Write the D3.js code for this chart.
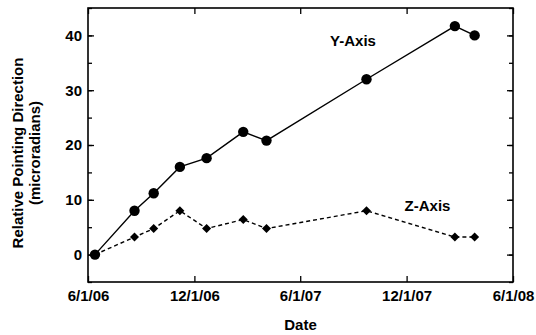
<!DOCTYPE html>
<html>
<head>
<meta charset="utf-8">
<script src="https://cdn.jsdelivr.net/npm/d3@7"></script>
<style>
  body { margin: 0; background: #fff; }
  svg { display: block; font-family: "Liberation Sans", Arial, sans-serif; font-weight: bold; }
  .axis path { display: none; }
  .axis line { stroke: #000; stroke-width: 1.3; }
  .axis text { font-size: 15px; fill: #000; font-family: "Liberation Sans", Arial, sans-serif; font-weight: bold; }
</style>
</head>
<body>
<script>
const dates = ["2006-06-13", "2006-08-20", "2006-09-22", "2006-11-06", "2006-12-22",
               "2007-02-23", "2007-04-04", "2007-09-23", "2008-02-22", "2008-03-27"];
const yAxisValues = [0, 8.0, 11.2, 16.0, 17.6, 22.4, 20.8, 32.0, 41.7, 40.0];
const zAxisValues = [0, 3.2, 4.75, 8.0, 4.75, 6.4, 4.75, 8.0, 3.2, 3.2];

const xTickDates = ["2006-06-01", "2006-12-01", "2007-06-01", "2007-12-01", "2008-06-01"];
const xTickLabels = ["6/1/06", "12/1/06", "6/1/07", "12/1/07", "6/1/08"];
const yTicks = [0, 10, 20, 30, 40];
const yMinorTicks = [-5, 0, 5, 10, 15, 20, 25, 30, 35, 40, 45];

const width = 536, height = 335;
const margin = {top: 8, right: 23, bottom: 53, left: 88};
const w = width - margin.left - margin.right;
const h = height - margin.top - margin.bottom;

const parse = d3.timeParse("%Y-%m-%d");

const svg = d3.select("body").append("svg")
    .attr("width", width)
    .attr("height", height);

const g = svg.append("g").attr("transform", `translate(${margin.left},${margin.top})`);

const x = d3.scaleTime()
    .domain([parse(xTickDates[0]), parse(xTickDates[xTickDates.length - 1])])
    .range([0, w]);
const y = d3.scaleLinear().domain([-5, 45]).range([h, 0]);

const tickDates = xTickDates.map(parse);
const fmt = d => xTickLabels[tickDates.findIndex(t => +t === +d)];

// bottom axis with labels, ticks pointing in
g.append("g").attr("class", "axis")
    .attr("transform", `translate(0,${h})`)
    .call(d3.axisBottom(x).tickValues(tickDates).tickFormat(fmt).tickSizeInner(-6).tickSizeOuter(0).tickPadding(8));

g.append("g").attr("class", "axis")
    .call(d3.axisTop(x).tickValues(tickDates).tickFormat("").tickSizeInner(-6).tickSizeOuter(0));

// y minor ticks
g.append("g").attr("class", "axis")
    .call(d3.axisLeft(y).tickValues(yMinorTicks).tickFormat("").tickSizeInner(-4).tickSizeOuter(0));
g.append("g").attr("class", "axis")
    .attr("transform", `translate(${w},0)`)
    .call(d3.axisRight(y).tickValues(yMinorTicks).tickFormat("").tickSizeInner(-4).tickSizeOuter(0));

// y major ticks
g.append("g").attr("class", "axis")
    .call(d3.axisLeft(y).tickValues(yTicks).tickFormat(d3.format("d")).tickSizeInner(-6).tickSizeOuter(0).tickPadding(6));
g.append("g").attr("class", "axis")
    .attr("transform", `translate(${w},0)`)
    .call(d3.axisRight(y).tickValues(yTicks).tickFormat("").tickSizeInner(-6).tickSizeOuter(0));

// frame
g.append("rect")
    .attr("width", w).attr("height", h)
    .attr("fill", "none").attr("stroke", "#000").attr("stroke-width", 1.6);

const ptsY = dates.map((d, i) => ({date: parse(d), v: yAxisValues[i]}));
const ptsZ = dates.map((d, i) => ({date: parse(d), v: zAxisValues[i]}));

const line = d3.line().x(d => x(d.date)).y(d => y(d.v));

g.append("path").datum(ptsZ)
    .attr("d", line)
    .attr("fill", "none").attr("stroke", "#000")
    .attr("stroke-width", 1.4).attr("stroke-dasharray", "4,3");

g.append("path").datum(ptsY)
    .attr("d", line)
    .attr("fill", "none").attr("stroke", "#000").attr("stroke-width", 1.4);

g.selectAll(".dia").data(ptsZ).enter().append("path")
    .attr("class", "dia")
    .attr("transform", d => `translate(${x(d.date)},${y(d.v)})`)
    .attr("d", d3.symbol(d3.symbolDiamond2, 52));

g.selectAll(".dot").data(ptsY).enter().append("circle")
    .attr("class", "dot")
    .attr("cx", d => x(d.date)).attr("cy", d => y(d.v))
    .attr("r", 5.2).attr("fill", "#000");

// series labels
g.append("text").attr("x", 353 - margin.left).attr("y", 46 - margin.top)
    .attr("text-anchor", "middle").style("font-size", "15px").text("Y-Axis");
g.append("text").attr("x", 427.5 - margin.left).attr("y", 211 - margin.top)
    .attr("text-anchor", "middle").style("font-size", "15px").text("Z-Axis");

// axis titles
svg.append("text").attr("x", margin.left + w / 2).attr("y", 330)
    .attr("text-anchor", "middle").style("font-size", "15px").text("Date");

const cy = 153;
svg.append("text")
    .attr("transform", `translate(23,${cy}) rotate(-90)`)
    .attr("text-anchor", "middle").style("font-size", "15px").text("Relative Pointing Direction");
svg.append("text")
    .attr("transform", `translate(40,${cy}) rotate(-90)`)
    .attr("text-anchor", "middle").style("font-size", "15px").text("(microradians)");
</script>
</body>
</html>
